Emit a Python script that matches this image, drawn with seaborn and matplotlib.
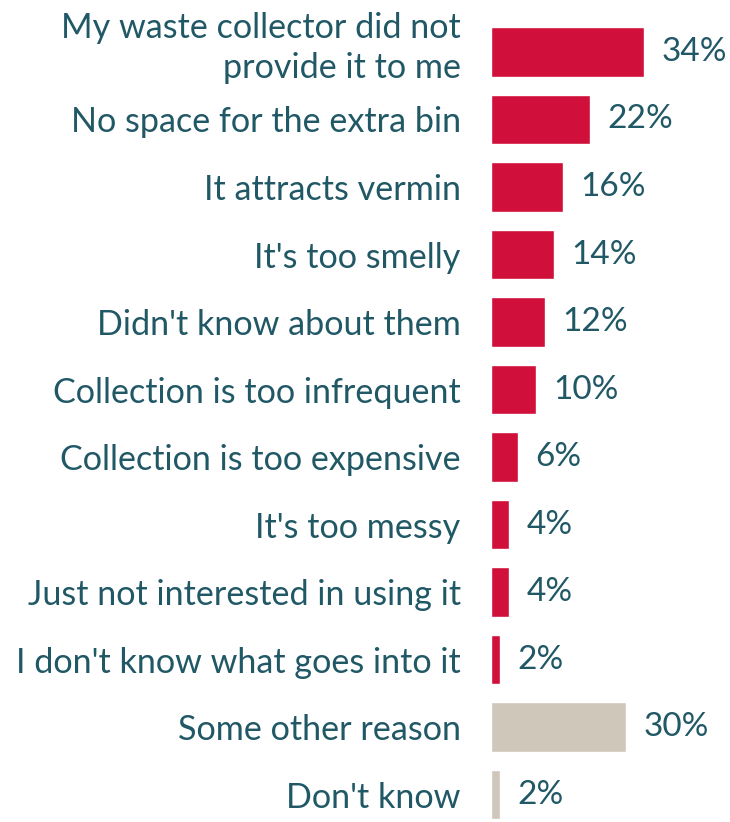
import matplotlib
matplotlib.use("Agg")
import matplotlib.pyplot as plt
import matplotlib.transforms as mtransforms
import seaborn as sns
import pandas as pd

reasons = [
    "My waste collector did not\nprovide it to me",
    "No space for the extra bin",
    "It attracts vermin",
    "It's too smelly",
    "Didn't know about them",
    "Collection is too infrequent",
    "Collection is too expensive",
    "It's too messy",
    "Just not interested in using it",
    "I don't know what goes into it",
    "Some other reason",
    "Don't know",
]
shares = [34, 22, 16, 14, 12, 10, 6, 4, 4, 2, 30, 2]
groups = ["reason"] * 10 + ["other"] * 2

RED = "#D0103A"
BEIGE = "#CFC7BA"
TEXT = "#215866"

df = pd.DataFrame({"reason": reasons, "share": shares, "group": groups})

sns.set_theme(style="white")
plt.rcParams["font.family"] = ["Lato", "DejaVu Sans"]

fig = plt.figure(figsize=(7.30, 8.22), dpi=100)
ax = fig.add_axes([0.673, 0.0, 0.327, 1.0])

sns.barplot(data=df, x="share", y="reason", hue="group",
            palette={"reason": RED, "other": BEIGE},
            width=0.74, legend=False, ax=ax, orient="h", saturation=1)

px_per_unit = 4.5
ax.set_xlim(0, 239 / px_per_unit)
ax.set_ylim((822 - 52) / 67.5, -52 / 67.5)

for i, v in enumerate(shares):
    ax.text(v + 17 / px_per_unit, i, f"{v}%", va="center", ha="left",
            fontsize=24, color=TEXT)

ax.set_xlabel("")
ax.set_ylabel("")
ax.set_xticks([])
ax.tick_params(axis="y", length=0, pad=22, labelsize=24.6, labelcolor=TEXT)
labels = ax.get_yticklabels()
for lbl in labels:
    lbl.set_linespacing(1.3)
# lift the two-line label a little so it sits over its bar
lift = mtransforms.ScaledTranslation(0, 11 / 100, fig.dpi_scale_trans)
labels[0].set_transform(labels[0].get_transform() + lift)
for s in ax.spines.values():
    s.set_visible(False)

fig.savefig("out.png", dpi=100)
